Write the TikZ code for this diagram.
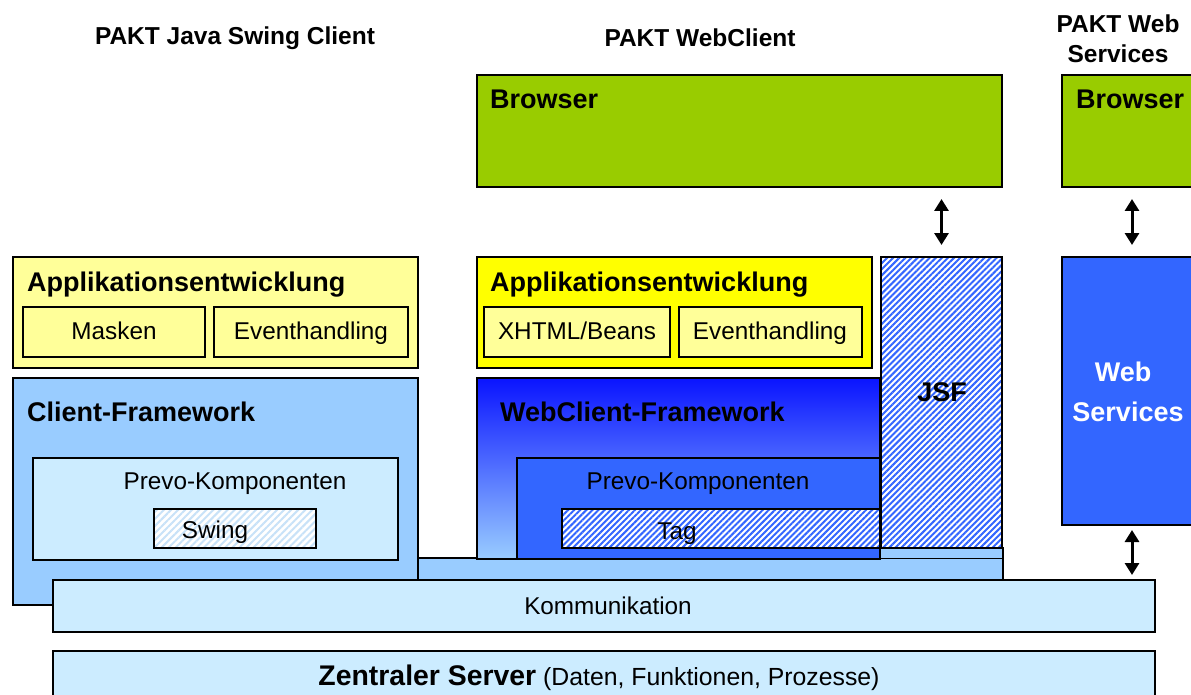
\documentclass[tikz,border=0pt]{standalone}
\usepackage{fontspec}
\setmainfont{Liberation Sans}
\usetikzlibrary{patterns.meta,arrows.meta}
\definecolor{grn}{HTML}{99CC00}
\definecolor{ylw}{HTML}{FFFF00}
\definecolor{lylw}{HTML}{FFFF99}
\definecolor{mblue}{HTML}{99CCFF}
\definecolor{lblue}{HTML}{CCECFF}
\definecolor{dblue}{HTML}{3366FF}
\definecolor{topblue}{HTML}{0A14FF}
\definecolor{swingl}{HTML}{C8E2F8}
\tikzset{
 box/.style={draw=black, line width=1.6pt, inner sep=0pt, outer sep=0pt, anchor=north west},
 hd/.style={font=\bfseries\fontsize{27}{30}\selectfont, anchor=base west, inner sep=0pt},
 ttl/.style={font=\bfseries\fontsize{24.5}{30}\selectfont, inner sep=0pt, align=center},
 tx/.style={font=\fontsize{24.3}{26}\selectfont, inner sep=0pt, anchor=base},
 arr/.style={{Triangle[width=14pt,length=12pt]}-{Triangle[width=14pt,length=12pt]}, line width=3pt},
 hatchjsf/.style={pattern={Lines[angle=45,distance=4.3pt,line width=2pt]}, pattern color=dblue},
 hatchswing/.style={pattern={Lines[angle=45,distance=5pt,line width=2pt]}, pattern color=swingl}
}
\begin{document}
\begin{tikzpicture}[x=1pt,y=-1pt]
\clip (0,0) rectangle (1191,695);
\fill[white] (0,0) rectangle (1191,695);
% titles
\node[ttl] (t1) at (235,38) {PAKT Java Swing Client};
\node[ttl] (t2) at (700,38) {PAKT WebClient};
\node[ttl] (t3) at (1118,39) {PAKT Web\\Services};
% browsers
\node[box, fill=grn, minimum width=525pt, minimum height=112pt] (bro1) at (477,75) {};
\node[hd] (bro1t) at (490,109) {Browser};
\node[box, fill=grn, minimum width=140pt, minimum height=112pt] (bro2) at (1062,75) {};
\node[hd] (bro2t) at (1076,109) {Browser};
% Applikationsentwicklung left
\node[box, fill=lylw, minimum width=405pt, minimum height=111pt] (apl1) at (13,257) {};
\node[hd] (apl1t) at (27,291) {Applikationsentwicklung};
\node[box, fill=lylw, minimum width=182pt, minimum height=50pt] (mask) at (23,307) {};
\node[tx] (maskt) at (114,339) {Masken};
\node[box, fill=lylw, minimum width=194pt, minimum height=50pt] (evt1) at (214,307) {};
\node[tx] (evt1t) at (311,339) {Eventhandling};
% Applikationsentwicklung middle
\node[box, fill=ylw, minimum width=395pt, minimum height=111pt] (apl2) at (477,257) {};
\node[hd] (apl2t) at (490,291) {Applikationsentwicklung};
\node[box, fill=lylw, minimum width=186pt, minimum height=50pt] (xhtml) at (484,307) {};
\node[tx] (xhtmlt) at (577,339) {XHTML/Beans};
\node[box, fill=lylw, minimum width=183pt, minimum height=50pt] (evt2) at (679,307) {};
\node[tx] (evt2t) at (770,339) {Eventhandling};
% band behind frameworks
\node[box, fill=mblue, minimum width=585pt, minimum height=22pt] (band) at (418,558) {};
\fill[mblue] (880,547) rectangle (1002,558);
\draw[line width=1.6pt] (1003,547) -- (1003,559);
% Client-Framework
\node[box, fill=mblue, minimum width=405pt, minimum height=227pt] (cfw) at (13,378) {};
\node[hd] (cfwt) at (27,421) {Client-Framework};
\node[box, fill=lblue, minimum width=365pt, minimum height=102pt] (pk1) at (33,458) {};
\node[tx] (pk1t) at (235,489) {Prevo-Komponenten};
\node[box, fill=white, minimum width=162pt, minimum height=39pt] (swing) at (154,509) {};
\path[hatchswing] (swing.north west) rectangle (swing.south east);
\draw[line width=1.6pt] (swing.north west) rectangle (swing.south east);
\node[tx] (swingt) at (215,538) {Swing};
% WebClient-Framework
\node[box, top color=topblue, bottom color=mblue, minimum width=403pt, minimum height=181pt] (wcf) at (477,378) {};
\node[hd] (wcft) at (500,421) {WebClient-Framework};
\node[box, fill=dblue, minimum width=363pt, minimum height=101pt] (pk2) at (517,458) {};
\node[tx] (pk2t) at (698,489) {Prevo-Komponenten};
\node[box, fill=white, minimum width=318pt, minimum height=39pt] (tag) at (562,509) {};
\path[hatchjsf] (tag.north west) rectangle (tag.south east);
\draw[line width=1.6pt] (tag.north west) rectangle (tag.south east);
\node[tx] (tagt) at (677,539) {Tag};
% JSF
\node[box, fill=white, minimum width=121pt, minimum height=291pt] (jsf) at (881,257) {};
\path[hatchjsf] (jsf.north west) rectangle (jsf.south east);
\draw[line width=1.6pt] (jsf.north west) rectangle (jsf.south east);
\node[hd, anchor=base] (jsft) at (942,401) {JSF};
% Web Services
\node[box, fill=dblue, minimum width=140pt, minimum height=268pt] (ws) at (1062,257) {};
\node[hd, anchor=base, text=white] (wst1) at (1123,381) {Web};
\node[hd, anchor=base, text=white] (wst2) at (1128,421) {Services};
% Kommunikation
\node[box, fill=lblue, minimum width=1102pt, minimum height=52pt] (komm) at (53,580) {};
\node[tx] (kommt) at (608,614) {Kommunikation};
% Zentraler Server
\node[box, fill=lblue, minimum width=1102pt, minimum height=60pt] (srv) at (53,651) {};
\node[tx, font=\fontsize{24.8}{26}\selectfont] (srvt) at (599,685) {{\bfseries\fontsize{28.4}{30}\selectfont Zentraler Server} (Daten, Funktionen, Prozesse)};
% arrows
\draw[arr, shorten <=12pt, shorten >=12pt] (jsf.north |- bro1.south) -- (jsf.north);
\draw[arr, shorten <=12pt, shorten >=12pt] (ws.north |- bro2.south) -- (ws.north);
\draw[arr, shorten <=5pt, shorten >=5pt] (ws.south) -- (ws.south |- komm.north);
\end{tikzpicture}
\end{document}
